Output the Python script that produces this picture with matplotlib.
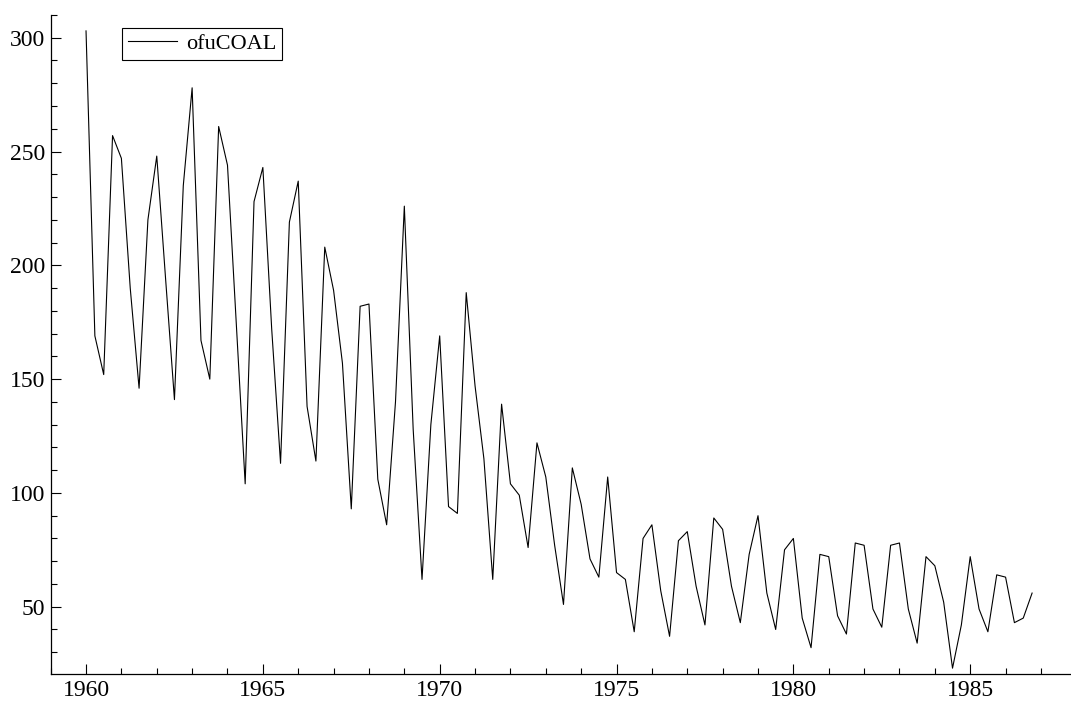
import numpy as np
import matplotlib
matplotlib.use("Agg")
import matplotlib.pyplot as plt
from matplotlib.ticker import MultipleLocator

# quarterly series, 1960Q1 .. 1986Q4
start_year = 1960
ofuCOAL = [
    303, 169, 152, 257, 247, 190, 146, 220,
    248, 194, 141, 235, 278, 167, 150, 261,
    244, 174, 104, 228, 243, 172, 113, 219,
    237, 138, 114, 208, 189, 157, 93, 182,
    183, 106, 86, 140, 226, 128, 62, 130,
    169, 94, 91, 188, 147, 115, 62, 139,
    104, 99, 76, 122, 107, 77, 51, 111,
    95, 71, 63, 107, 65, 62, 39, 80,
    86, 57, 37, 79, 83, 59, 42, 89,
    84, 59, 43, 73, 90, 56, 40, 75,
    80, 45, 32, 73, 72, 46, 38, 78,
    77, 49, 41, 77, 78, 49, 34, 72,
    68, 52, 23, 42, 72, 49, 39, 64,
    63, 43, 45, 56,
]
dates = start_year + np.arange(len(ofuCOAL)) / 4.0

plt.rcParams['font.family'] = ['Liberation Serif', 'DejaVu Serif']

fig = plt.figure(figsize=(10.71, 7.03), dpi=100)
ax = fig.add_axes([0.0473, 0.0408, 0.9527, 0.9379])

ax.plot(dates, ofuCOAL, color='black', lw=0.8, label='ofuCOAL')

ax.set_xlim(1959.0, 1987.85)
ax.set_ylim(20.3, 310)

ax.xaxis.set_major_locator(MultipleLocator(5))
ax.xaxis.set_minor_locator(MultipleLocator(1))
ax.yaxis.set_major_locator(MultipleLocator(50))
ax.yaxis.set_minor_locator(MultipleLocator(10))

for s in ['top', 'right']:
    ax.spines[s].set_visible(False)
for s in ['left', 'bottom']:
    ax.spines[s].set_linewidth(0.9)

ax.tick_params(which='major', direction='in', length=7, width=0.8,
               labelsize=17, pad=4)
ax.tick_params(which='minor', direction='in', length=4, width=0.8)

leg = ax.legend(loc='upper left', bbox_to_anchor=(0.07, 0.98),
                borderaxespad=0, fancybox=False, framealpha=1,
                edgecolor='black', fontsize=16, handlelength=2.2,
                handletextpad=0.45, borderpad=0.25)
leg.get_frame().set_linewidth(0.8)

fig.savefig('out.png', dpi=100)
